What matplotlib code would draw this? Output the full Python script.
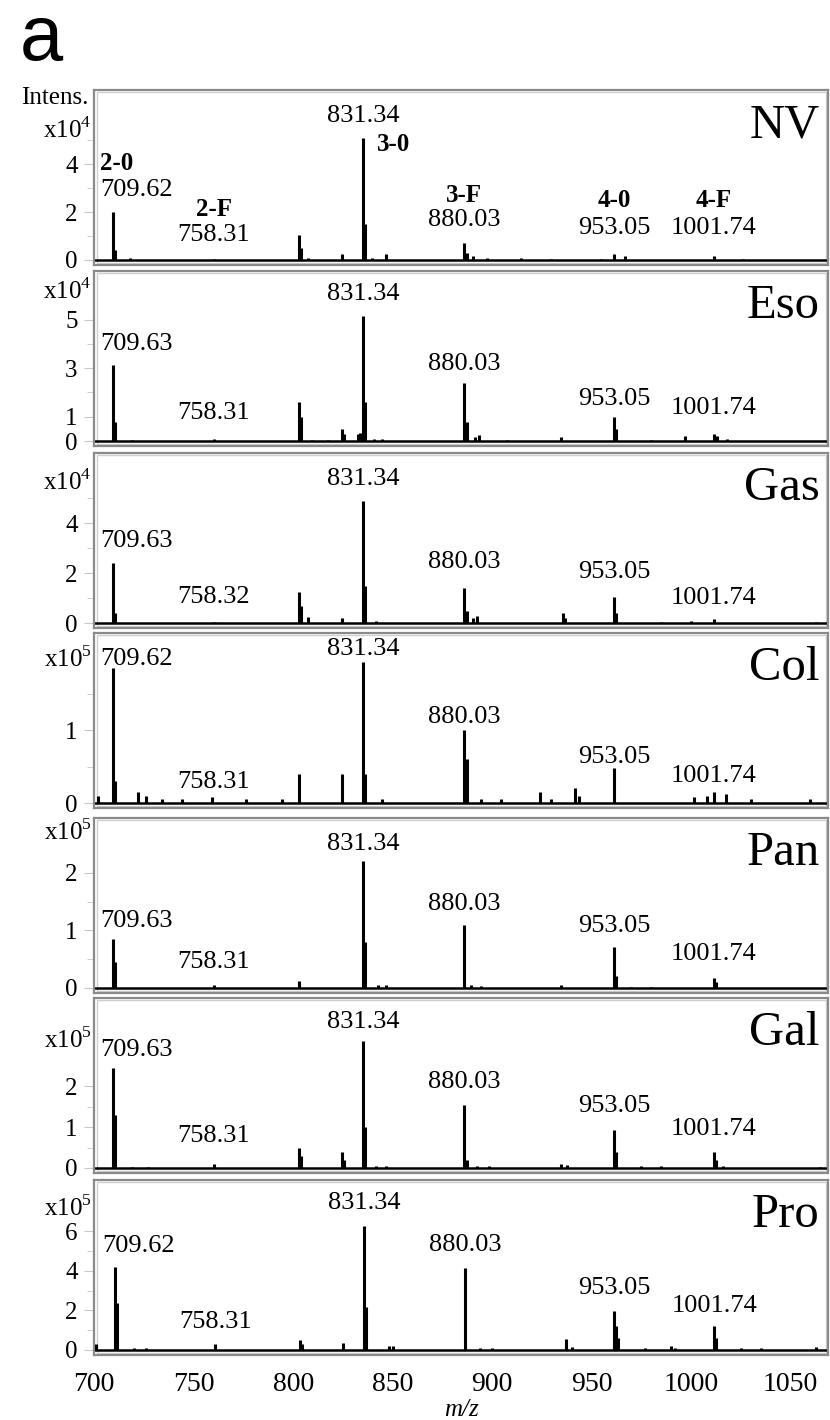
import matplotlib
matplotlib.use("Agg")
import matplotlib.pyplot as plt
from matplotlib.patches import Rectangle

plt.rcParams['font.family'] = ['Liberation Serif', 'DejaVu Serif']
plt.rcParams['mathtext.fontset'] = 'custom'
plt.rcParams['mathtext.rm'] = 'Liberation Serif'

# ---- data ----------------------------------------------------------------
panels = ["NV", "Eso", "Gas", "Col", "Pan", "Gal", "Pro"]
scale_labels = ["x10$^4$", "x10$^4$", "x10$^4$", "x10$^5$",
                "x10$^5$", "x10$^5$", "x10$^5$"]
y_max = [7.1, 7.0, 6.8, 2.33, 2.95, 4.15, 8.6]
y_ticks = [[0, 2, 4], [0, 1, 3, 5], [0, 2, 4], [0, 1], [0, 1, 2], [0, 1, 2],
           [0, 2, 4, 6]]
y_minor = [[1, 3, 5], [2, 4], [1, 3, 5], [0.5, 1.5], [0.5, 1.5], [0.5, 1.5],
           [1, 3, 5]]

# peak positions as drawn on the m/z axis, heights in units of the scale label
nv_mz = [710.4, 711.5, 719, 760.8, 803.5, 804.5, 808, 825.2, 835.7, 836.8,
         840, 847, 886.6, 887.7, 891, 898, 915, 930, 955, 961.5, 967, 1011.6,
         1026]
nv_int = [2.0, 0.4, 0.1, 0.05, 1.05, 0.5, 0.1, 0.25, 5.1, 1.5, 0.1, 0.25,
          0.7, 0.3, 0.15, 0.1, 0.1, 0.05, 0.05, 0.25, 0.15, 0.15, 0.05]

eso_mz = [710.4, 711.5, 720, 760.8, 803.5, 804.5, 810, 818, 825.2, 826, 833,
          834, 835.7, 836.8, 841, 845, 886.6, 887.7, 892, 894, 908, 935,
          961.5, 962.5, 980, 997, 1011.6, 1013, 1018]
eso_int = [3.15, 0.8, 0.05, 0.1, 1.6, 1.0, 0.05, 0.05, 0.5, 0.3, 0.3, 0.35,
           5.15, 1.6, 0.1, 0.1, 2.4, 0.8, 0.15, 0.25, 0.05, 0.15, 1.0, 0.5,
           0.05, 0.2, 0.3, 0.2, 0.1]

gas_mz = [710.4, 711.5, 760.8, 803.5, 804.5, 808, 825.2, 835.7, 836.8, 842,
          886.6, 887.7, 891, 893, 936, 937, 961.5, 962.5, 985, 1000, 1011.6,
          1063]
gas_int = [2.4, 0.4, 0.05, 1.25, 0.7, 0.25, 0.2, 4.9, 1.5, 0.1, 1.4, 0.5,
           0.2, 0.3, 0.4, 0.2, 1.05, 0.4, 0.05, 0.1, 0.15, 0.05]

col_mz = [703, 710.4, 711.5, 723, 727, 735, 745, 760, 777, 795, 803.5,
          825.2, 835.7, 836.8, 845, 886.6, 887.7, 895, 905, 924.6, 930, 942.2,
          944, 961.5, 1001.5, 1008, 1011.6, 1017.5, 1030, 1060]
col_int = [0.1, 1.85, 0.3, 0.15, 0.1, 0.05, 0.05, 0.08, 0.05, 0.05, 0.4,
           0.4, 1.93, 0.4, 0.05, 1.0, 0.6, 0.05, 0.05, 0.15, 0.05, 0.2, 0.1,
           0.48, 0.08, 0.1, 0.15, 0.12, 0.05, 0.05]

pan_mz = [710.4, 711.5, 760.8, 803.5, 835.7, 836.8, 843, 847, 886.6, 890,
          895, 935, 961.5, 962.5, 970, 980, 1011.6, 1012.5]
pan_int = [0.85, 0.45, 0.05, 0.12, 2.2, 0.79, 0.05, 0.05, 1.1, 0.05, 0.03,
           0.05, 0.72, 0.2, 0.02, 0.02, 0.18, 0.1]

gal_mz = [710.4, 711.5, 720, 728, 760.8, 803.5, 804.5, 825.2, 826, 835.7,
          836.8, 842, 847, 886.6, 887.7, 893, 899, 935, 938, 961.5, 962.5,
          975, 985, 1011.6, 1012.6, 1016, 1065]
gal_int = [2.45, 1.3, 0.03, 0.03, 0.1, 0.5, 0.3, 0.4, 0.2, 3.1, 1.0, 0.05,
           0.05, 1.55, 0.2, 0.05, 0.04, 0.1, 0.08, 0.93, 0.4, 0.05, 0.05,
           0.4, 0.2, 0.05, 0.03]

pro_mz = [701, 710.4, 711.5, 720, 726, 760.8, 803.5, 804.5, 825.2, 835.7,
          836.8, 848, 850, 886.6, 894, 900, 937, 940, 961.5, 962.5, 963.5,
          977, 990, 992, 1011.6, 1012.6, 1025, 1035, 1063]
pro_int = [0.3, 4.2, 2.4, 0.1, 0.1, 0.3, 0.5, 0.3, 0.35, 6.25, 2.2, 0.2, 0.2,
           4.15, 0.1, 0.1, 0.55, 0.15, 1.95, 1.2, 0.6, 0.1, 0.2, 0.1, 1.2,
           0.6, 0.1, 0.1, 0.15]

spectra_mz = [nv_mz, eso_mz, gas_mz, col_mz, pan_mz, gal_mz, pro_mz]
spectra_int = [nv_int, eso_int, gas_int, col_int, pan_int, gal_int, pro_int]

# annotated peaks: where they sit on the axis and what they read
label_mz = [710.4, 760.8, 835.7, 886.6, 961.5, 1011.6]
peak_labels = [
    ["709.62", "758.31", "831.34", "880.03", "953.05", "1001.74"],
    ["709.63", "758.31", "831.34", "880.03", "953.05", "1001.74"],
    ["709.63", "758.32", "831.34", "880.03", "953.05", "1001.74"],
    ["709.62", "758.31", "831.34", "880.03", "953.05", "1001.74"],
    ["709.63", "758.31", "831.34", "880.03", "953.05", "1001.74"],
    ["709.63", "758.31", "831.34", "880.03", "953.05", "1001.74"],
    ["709.62", "758.31", "831.34", "880.03", "953.05", "1001.74"],
]
group_labels = ["2-0", "2-F", "3-0", "3-F", "4-0", "4-F"]

# ---- layout (pixels / axes fractions) ---------------------------------
W, H = 830, 1420
baselines = [260, 441, 623, 803, 988, 1168, 1350]
label_y = [
    [0.43, 0.17, 0.85, 0.26, 0.21, 0.21],
    [0.58, 0.19, 0.87, 0.47, 0.27, 0.22],
    [0.50, 0.18, 0.85, 0.38, 0.32, 0.17],
    [0.85, 0.15, 0.91, 0.52, 0.29, 0.18],
    [0.41, 0.18, 0.85, 0.51, 0.38, 0.22],
    [0.70, 0.21, 0.86, 0.52, 0.38, 0.25],
    [0.62, 0.19, 0.87, 0.63, 0.38, 0.28],
]
group_y = [0.58, 0.32, 0.686, 0.40, 0.37, 0.37]
scale_y = [0.77, 0.886, 0.834, 0.85, 0.92, 0.76, 0.84]

fig = plt.figure(figsize=(W / 100, H / 100), dpi=100)
left_px, right_px = 94.3, 828.3

fig.text(20 / W, 1 - 60 / H, "a", family="Liberation Sans", fontsize=56,
         va="baseline", ha="left")

for i, name in enumerate(panels):
    b = baselines[i]
    ax = fig.add_axes([left_px / W, 1 - (b + 5) / H,
                       (right_px - left_px) / W, 175 / H])
    ymax = y_max[i]
    ax.set_ylim(-ymax * 5 / 170, ymax)
    ax.set_xlim(701, 1069)

    ax.axhline(0, color="black", lw=1.8, zorder=2)
    ax.vlines(spectra_mz[i], 0, spectra_int[i], color="black", lw=2.2,
              zorder=3)

    for sp in ax.spines.values():
        sp.set_color("#8a8a8a")
        sp.set_linewidth(1.6)
    ax.add_patch(Rectangle((0.003, 0.012), 0.994, 0.976,
                           transform=ax.transAxes, fill=False,
                           ec="#cfcfcf", lw=1.0))

    ax.set_yticks(y_ticks[i])
    ax.set_yticks(y_minor[i], minor=True)
    ax.tick_params(axis="y", which="both", direction="out", length=7,
                   color="#c8c8c8", labelsize=18, pad=5)
    ax.tick_params(axis="y", which="minor", length=5)

    if i == 0:
        ax.text(-0.008, 0.955, "Intens.", transform=ax.transAxes,
                ha="right", va="center", fontsize=18)
    ax.text(-0.004, scale_y[i], scale_labels[i], transform=ax.transAxes,
            ha="right", va="center", fontsize=18)

    ax.text(0.988, 0.73, name, transform=ax.transAxes, ha="right",
            va="baseline", fontsize=35)

    tr = ax.get_xaxis_transform()
    for j, lab in enumerate(peak_labels[i]):
        if j == 0:
            ax.text(704, label_y[i][j], lab, transform=tr, ha="left",
                    va="center", fontsize=19)
        else:
            ax.text(label_mz[j], label_y[i][j], lab, transform=tr,
                    ha="center", va="center", fontsize=19)

    if i == 0:
        for j, g in enumerate(group_labels):
            if j == 0:
                ax.text(704, group_y[j], g, transform=tr, ha="left",
                        va="center", fontsize=18, fontweight="bold")
            elif j == 2:
                ax.text(842.9, group_y[j], g, transform=tr, ha="left",
                        va="center", fontsize=18, fontweight="bold")
            else:
                ax.text(label_mz[j], group_y[j], g, transform=tr,
                        ha="center", va="center", fontsize=18,
                        fontweight="bold")

    if i == len(panels) - 1:
        ax.set_xticks(range(700, 1051, 50))
        ax.tick_params(axis="x", length=0, labelsize=20, pad=12)
        ax.set_xlabel("m/z", fontsize=18, style="italic", labelpad=2)
    else:
        ax.set_xticks([])

fig.savefig("out.png", dpi=100)
